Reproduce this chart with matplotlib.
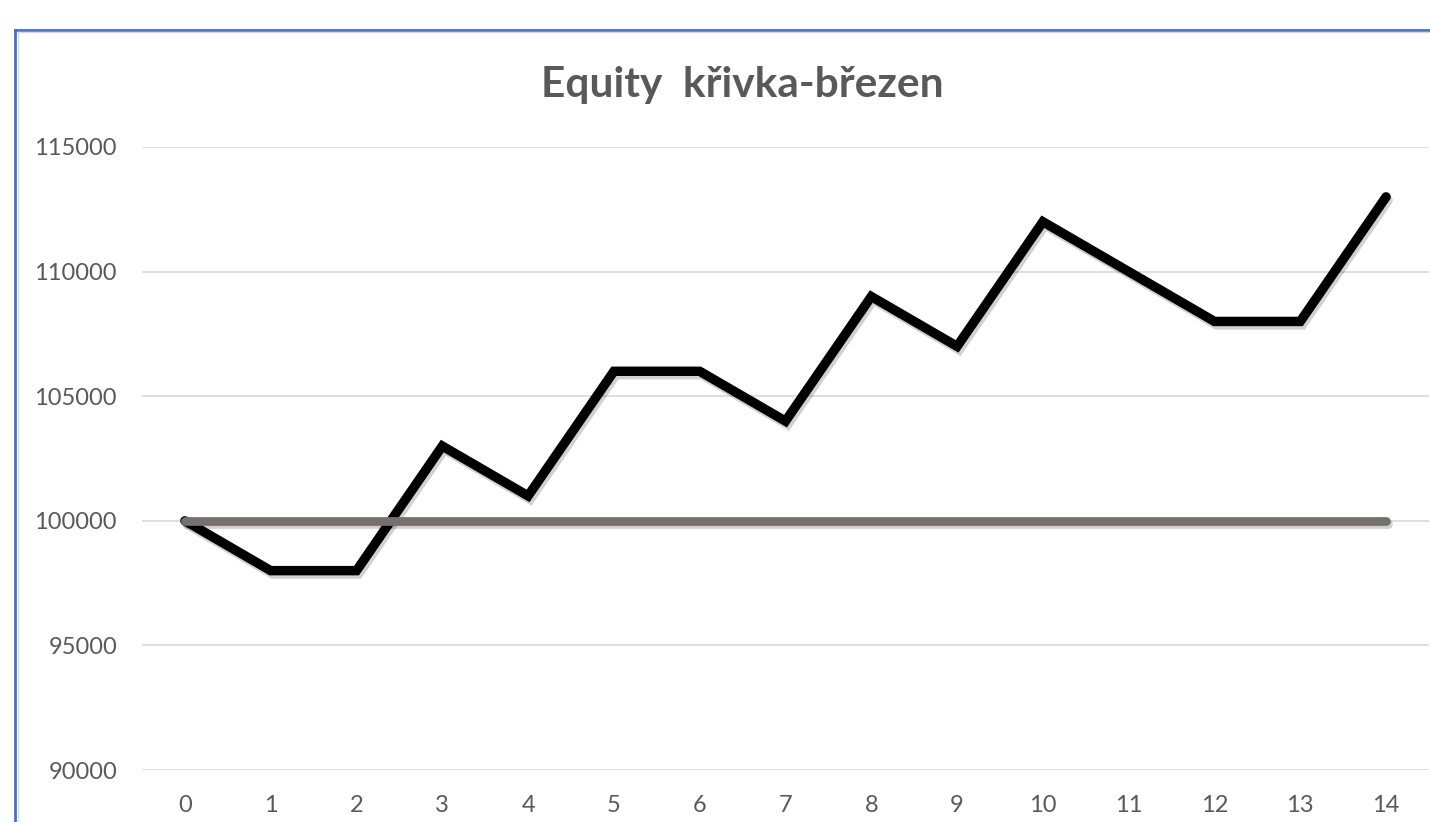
import numpy as np
import matplotlib.pyplot as plt
import matplotlib.patheffects as pe
from matplotlib.lines import Line2D

days = list(range(15))
equity = [100000, 98000, 98000, 103000, 101000, 106000, 106000, 104000,
          109000, 107000, 112000, 110000, 108000, 108000, 113000]
start_capital = [100000] * 15
y_ticks = [90000, 95000, 100000, 105000, 110000, 115000]

W, H = 1430, 822
fig = plt.figure(figsize=(W / 100, H / 100), dpi=100)
plt.rcParams['font.family'] = ['Lato', 'DejaVu Sans']

ax = fig.add_axes([142 / W, (H - 770) / H, (1429 - 142) / W, (770 - 147) / H])
ax.set_xlim(-0.5, 14.5)
ax.set_ylim(90000, 115000)

for y in y_ticks:
    ax.axhline(y, color='#d9d9d9', lw=1.2, zorder=0)

shadow = [pe.SimpleLineShadow(offset=(1.5, -2.5), shadow_color='black', alpha=0.18), pe.Normal()]
ax.plot(days, equity, color='black', lw=6.8, solid_capstyle='round',
        solid_joinstyle='miter', path_effects=shadow, zorder=3)
ax.plot(days, start_capital, color='#767171', lw=6.3, solid_capstyle='round',
        path_effects=shadow, zorder=4)

ax.set_xticks(days)
ax.set_xticklabels([str(d) for d in days])
ax.set_yticks(y_ticks)
ax.set_yticklabels([str(y) for y in y_ticks])
ax.tick_params(length=0, labelsize=17, labelcolor='#595959')
ax.tick_params(axis='y', pad=18)
ax.tick_params(axis='x', pad=18)
for s in ax.spines.values():
    s.set_visible(False)

fig.text(742 / W, 1 - 85 / H, 'Equity  křivka-březen', ha='center', va='center',
         fontsize=30.5, fontweight='bold', color='#595959')

# chart frame (cropped at right and bottom)
fig.add_artist(Line2D([15 / W, 15 / W], [0, 1 - 30 / H], color='#4472c4', lw=2))
fig.add_artist(Line2D([15 / W, 1], [1 - 30 / H, 1 - 30 / H], color='#4472c4', lw=2))
fig.add_artist(Line2D([17.5 / W, 17.5 / W], [0, 1 - 32.5 / H], color='#d9d9d9', lw=1))
fig.add_artist(Line2D([17.5 / W, 1], [1 - 32.5 / H, 1 - 32.5 / H], color='#d9d9d9', lw=1))

fig.savefig('out.png', dpi=100)
